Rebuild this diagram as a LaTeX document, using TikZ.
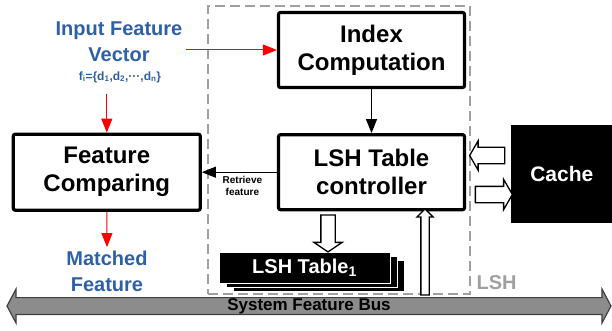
\documentclass[tikz,border=0pt]{standalone}
\usepackage{fontspec}
\setmainfont{Liberation Sans}
\usetikzlibrary{arrows.meta,positioning,shapes.arrows,shadows}
\definecolor{fvblue}{RGB}{46,96,168}
\definecolor{lshgray}{RGB}{160,160,160}
\definecolor{busgray}{RGB}{140,140,140}

\begin{document}
\begin{tikzpicture}[
  x=1pt,y=-1pt,
  font=\bfseries,
  >={Triangle[length=14pt,width=11pt]},
  box/.style={draw,line width=3.2pt,rounded corners=2pt,align=center,minimum width=186pt,minimum height=75pt,font=\fontsize{24}{28}\selectfont\bfseries},
  blk/.style={fill=black,text=white,align=center},
  hollow/.style={single arrow,draw,fill=white,line width=1.3pt},
  lbl/.style={text=fvblue,align=center,font=\fontsize{20}{26}\selectfont\bfseries},
  flow/.style={->,line width=1pt},
  redflow/.style={flow,red},
]
\useasboundingbox (0,0) rectangle (612,331);

% LSH region and bus
\node[draw=lshgray,dash pattern=on 10pt off 5pt,line width=2.2pt,minimum width=262pt,minimum height=288pt,inner sep=0pt] (lsh) at (339,150) {};
\node[text=lshgray,font=\fontsize{20}{24}\selectfont\bfseries,anchor=west] (lshname) at (473,283) {LSH};
\node[double arrow,draw=black!75,fill=busgray,line width=1.2pt,minimum height=604pt,minimum width=34pt,
  double arrow head extend=8.5pt,double arrow tip angle=124,inner sep=0pt,
  font=\fontsize{17}{20}\selectfont\bfseries] (bus) at (309,306) {System Feature Bus};

% main blocks
\node[box] (index) at (371.5,50) {Index\\Computation};
\node[box,below=44pt of index] (ctrl) {LSH Table\\controller};
\node[box,left=75pt of ctrl,minimum width=187pt,minimum height=76pt] (feat) {Feature\\Comparing};
\node[blk,right=45pt of ctrl,yshift=-2pt,minimum width=101pt,minimum height=98pt,font=\fontsize{21}{25}\selectfont\bfseries] (cache) {Cache};

% table stack
\node[blk,draw=white,line width=1pt,minimum width=171pt,minimum height=31pt,font=\fontsize{20}{24}\selectfont\bfseries,
  double copy shadow={shadow xshift=7pt,shadow yshift=-4pt,fill=black,draw=white,line width=1pt}] (tab) at (304.5,268) {LSH Table\textsubscript{1}};

% input / output
\node[lbl] (input) at (119,42) {Input Feature\\Vector};
\node[lbl,font=\fontsize{12}{14}\selectfont\bfseries] (vec) at (120,77) {f\textsubscript{i}=\{d\textsubscript{1},d\textsubscript{2},···,d\textsubscript{n}\}};
\node[lbl] (match) at (107,271) {Matched\\Feature};

% edges
\draw[redflow] (input.east |- index.west) -- (index.west);
\draw[redflow,shorten <=8pt] (vec.south -| feat.north) -- (feat.north);
\draw[redflow] (feat.south) -- (match.north);
\draw[flow] (index) -- (ctrl);
\draw[flow] (ctrl.west) -- node[below,xshift=3pt,font=\fontsize{10}{12}\selectfont\bfseries,align=center] (retr) {Retrieve\\feature} (ctrl.west -| feat.east);

% block arrows
\node[hollow,shape border rotate=270,inner sep=6.5pt,minimum height=37pt,single arrow head extend=7pt,single arrow tip angle=112] (totab) at (328,231) {};
\node[hollow,shape border rotate=90,inner sep=3.5pt,minimum height=86pt,single arrow head extend=4pt] (frombus) at (425,254) {};
\node[hollow,shape border rotate=180,inner sep=7.5pt,minimum height=35pt,single arrow head extend=6.5pt,single arrow tip angle=120] (fromcache) at (489.5,155.5) {};
\node[hollow,inner sep=7.5pt,minimum height=37pt,single arrow head extend=7pt,single arrow tip angle=120] (tocache) at (491.5,194.5) {};

\end{tikzpicture}
\end{document}
